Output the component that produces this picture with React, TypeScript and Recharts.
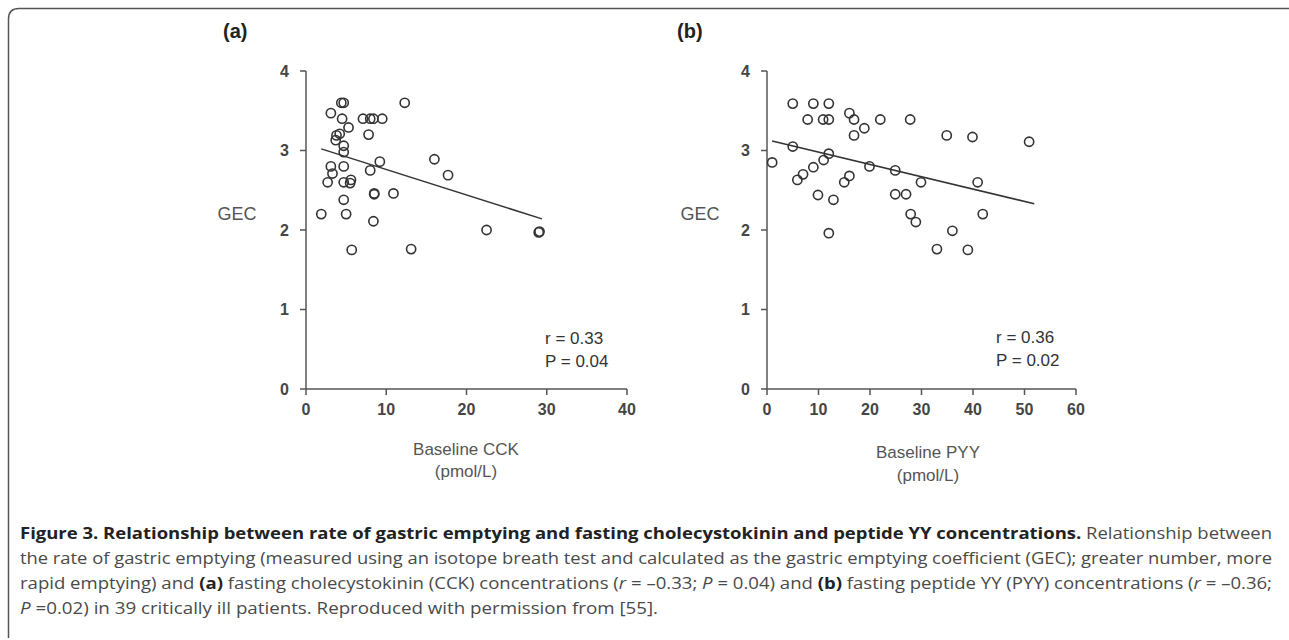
import React from 'react';
import { ScatterChart, Scatter, XAxis, YAxis, ReferenceLine } from 'recharts';

// panel (a): baseline CCK vs GEC
const cckValues = [3.1, 4.4, 4.7, 4.5, 5.3, 3.8, 4.2, 3.7, 4.7, 4.7, 3.1, 3.3, 2.7, 4.7, 4.7, 5.6, 5.5, 4.7, 1.9, 5.0, 5.7, 7.1, 8.0, 8.4, 9.5, 7.8, 8.0, 9.2, 8.5, 8.5, 10.9, 8.4, 12.3, 16.0, 17.7, 13.1, 22.5, 29.0, 29.1];
const cckGec = [3.47, 3.6, 3.6, 3.4, 3.29, 3.19, 3.21, 3.13, 3.06, 2.98, 2.8, 2.71, 2.6, 2.8, 2.6, 2.63, 2.59, 2.38, 2.2, 2.2, 1.75, 3.4, 3.4, 3.4, 3.4, 3.2, 2.75, 2.86, 2.45, 2.46, 2.46, 2.11, 3.6, 2.89, 2.69, 1.76, 2.0, 1.97, 1.98];
const cckFit = [{ x: 1.9, y: 3.02 }, { x: 29.4, y: 2.14 }];

// panel (b): baseline PYY vs GEC
const pyyValues = [1.0, 5.0, 5.0, 5.9, 7.0, 7.9, 9.0, 9.0, 9.9, 10.9, 12.0, 12.0, 11.0, 12.0, 12.9, 12.0, 15.0, 16.0, 16.0, 16.9, 16.9, 18.9, 19.9, 22.0, 24.9, 24.9, 27.0, 27.8, 27.9, 28.9, 29.9, 33.0, 34.9, 36.0, 39.0, 39.9, 40.9, 41.9, 50.9];
const pyyGec = [2.85, 3.59, 3.05, 2.63, 2.7, 3.39, 3.59, 2.79, 2.44, 3.39, 3.59, 3.39, 2.88, 2.96, 2.38, 1.96, 2.6, 2.68, 3.47, 3.39, 3.19, 3.28, 2.8, 3.39, 2.75, 2.45, 2.45, 3.39, 2.2, 2.1, 2.6, 1.76, 3.19, 1.99, 1.75, 3.17, 2.6, 2.2, 3.11];
const pyyFit = [{ x: 1.0, y: 3.12 }, { x: 51.9, y: 2.33 }];

const gecTicks = [0, 1, 2, 3, 4];
const cckTicks = [0, 10, 20, 30, 40];
const pyyTicks = [0, 10, 20, 30, 40, 50, 60];

const cckData = cckValues.map((x, i) => ({ x, y: cckGec[i] }));
const pyyData = pyyValues.map((x, i) => ({ x, y: pyyGec[i] }));

const axisFont = '"Liberation Sans", Arial, sans-serif';
const capFont = '"Open Sans", "Noto Sans", sans-serif';
const tickStyle = { fontFamily: axisFont, fontSize: 16, fontWeight: 700, fill: '#454545' };

const Ring = (props: any) => (
  <circle cx={props.cx} cy={props.cy} r={4.6} fill="none" stroke="#333" strokeWidth={1.6} />
);

type PanelProps = { data: any[]; fit: any[]; xTicks: number[]; left: number; width: number; right: number; yWidth: number };

function Panel({ data, fit, xTicks, left, width, right, yWidth }: PanelProps) {
  return (
    <div style={{ position: 'absolute', left, top: 50 }}>
      <ScatterChart width={width} height={420} margin={{ top: 21, right, bottom: 51, left: 0 }}>
        <XAxis
          type="number"
          dataKey="x"
          domain={[0, xTicks[xTicks.length - 1]]}
          ticks={xTicks}
          height={30}
          tickSize={6}
          tickMargin={9}
          stroke="#555"
          strokeWidth={1.5}
          tick={tickStyle}
        />
        <YAxis
          type="number"
          dataKey="y"
          domain={[0, 4]}
          ticks={gecTicks}
          width={yWidth}
          tickSize={6}
          tickMargin={11}
          stroke="#555"
          strokeWidth={1.5}
          tick={tickStyle}
        />
        <ReferenceLine segment={fit} stroke="#333" strokeWidth={1.5} />
        <Scatter data={data} shape={Ring} isAnimationActive={false} />
      </ScatterChart>
    </div>
  );
}

export default function App() {
  return (
    <div style={{ position: 'absolute', left: 0, top: 0, width: 1289, height: 640, background: '#fff' }}>
      <Panel data={cckData} fit={cckFit} xTicks={cckTicks} left={200} width={460} right={33} yWidth={106} />
      <Panel data={pyyData} fit={pyyFit} xTicks={pyyTicks} left={660} width={450} right={34} yWidth={107} />

      <svg width={1289} height={640} style={{ position: 'absolute', left: 0, top: 0, pointerEvents: 'none' }}>
        <path d="M8.5 638 L8.5 19 Q8.5 8.5 19 8.5 L1289 8.5" fill="none" stroke="#555" strokeWidth={1.5} />

        <g fontFamily={axisFont}>
          <text x={223} y={38} fontSize={20} fontWeight={700} fill="#222">(a)</text>
          <text x={677} y={38} fontSize={20} fontWeight={700} fill="#222">(b)</text>

          <text x={237} y={220} fontSize={18} fill="#555" textAnchor="middle">GEC</text>
          <text x={700} y={220} fontSize={18} fill="#555" textAnchor="middle">GEC</text>

          <text x={466} y={455} fontSize={17} fill="#555" textAnchor="middle">Baseline CCK</text>
          <text x={466} y={477} fontSize={17} fill="#555" textAnchor="middle">(pmol/L)</text>
          <text x={928} y={458} fontSize={17} fill="#555" textAnchor="middle">Baseline PYY</text>
          <text x={928} y={481} fontSize={17} fill="#555" textAnchor="middle">(pmol/L)</text>

          <text x={545} y={344} fontSize={17} fill="#333">r = 0.33</text>
          <text x={545} y={367} fontSize={17} fill="#333">P = 0.04</text>
          <text x={996} y={343} fontSize={17} fill="#333">r = 0.36</text>
          <text x={996} y={366} fontSize={17} fill="#333">P = 0.02</text>
        </g>

        <g fontFamily={capFont} fontSize={16} fill="#4a4a4a">
          <text x={20} y={539} textLength={1252} lengthAdjust="spacingAndGlyphs">
            <tspan fontWeight={700} fill="#222">Figure 3. Relationship between rate of gastric emptying and fasting cholecystokinin and peptide YY concentrations.</tspan>
            <tspan> Relationship between</tspan>
          </text>
          <text x={20} y={564} textLength={1252} lengthAdjust="spacingAndGlyphs">
            the rate of gastric emptying (measured using an isotope breath test and calculated as the gastric emptying coefficient (GEC); greater number, more
          </text>
          <text x={20} y={589} textLength={1252} lengthAdjust="spacingAndGlyphs">
            <tspan>rapid emptying) and </tspan>
            <tspan fontWeight={700} fill="#222">(a)</tspan>
            <tspan> fasting cholecystokinin (CCK) concentrations (</tspan>
            <tspan fontStyle="italic">r</tspan>
            <tspan> = –0.33; </tspan>
            <tspan fontStyle="italic">P</tspan>
            <tspan> = 0.04) and </tspan>
            <tspan fontWeight={700} fill="#222">(b)</tspan>
            <tspan> fasting peptide YY (PYY) concentrations (</tspan>
            <tspan fontStyle="italic">r</tspan>
            <tspan> = –0.36;</tspan>
          </text>
          <text x={20} y={614} textLength={638} lengthAdjust="spacingAndGlyphs">
            <tspan fontStyle="italic">P</tspan>
            <tspan> =0.02) in 39 critically ill patients. Reproduced with permission from [55].</tspan>
          </text>
        </g>
      </svg>
    </div>
  );
}
